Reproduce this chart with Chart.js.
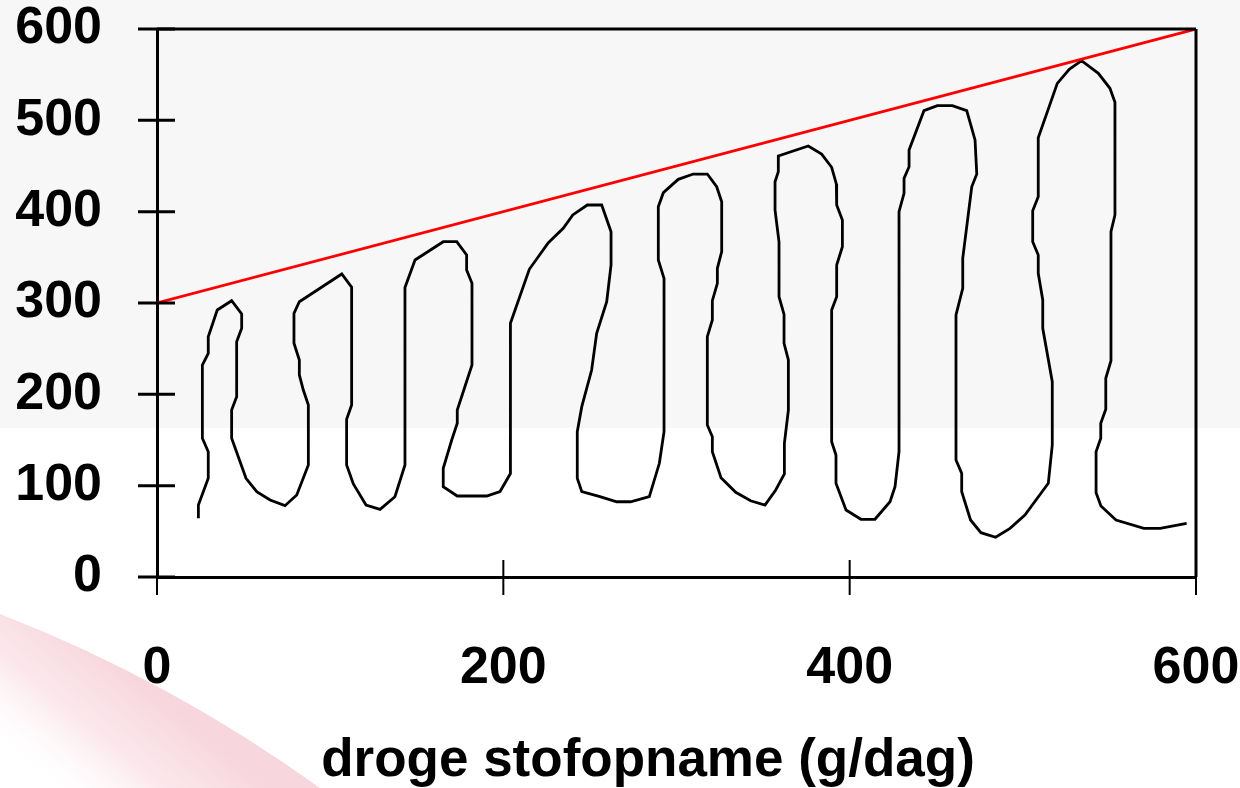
<!DOCTYPE html>
<html>
<head>
<meta charset="utf-8">
<script src="https://cdn.jsdelivr.net/npm/chart.js@4/dist/chart.umd.min.js"></script>
<style>
html,body{margin:0;padding:0;background:#fff;}
#wrap{width:1240px;height:788px;}
</style>
</head>
<body>
<div id="wrap"><canvas id="c" width="1240" height="788"></canvas></div>
<script>
// droge stofopname (g/dag) vs. value — traced curve
const curveX = [23.9,23.9,29.6,29.6,26.2,26.2,29.6,29.6,34.8,43.1,48.9,48.9,46.0,46.0,43.1,43.1,51.4,57.6,65.3,73.9,80.7,87.4,87.4,84.5,82.2,82.2,79.1,79.1,82.2,106.7,112.4,112.4,109.5,109.5,113.4,120.7,128.8,137.4,143.2,143.2,149.0,165.3,173.1,178.8,178.8,181.9,181.9,173.4,173.4,170.2,165.3,165.3,173.4,190.4,198.1,204.1,204.1,215.0,226.0,234.6,240.1,248.5,256.8,262.2,262.2,259.7,253.9,251.0,245.3,242.7,242.7,245.3,255.8,265.5,273.5,284.3,290.1,292.8,292.8,289.5,289.5,292.4,301.0,309.7,317.8,323.2,326.1,326.1,323.6,323.6,320.7,320.7,317.8,317.8,320.7,320.7,325.7,334.2,342.8,351.1,357.3,362.3,362.3,364.6,364.6,362.1,362.1,359.2,359.2,356.9,356.9,358.8,358.8,376.1,383.8,389.6,392.3,392.5,395.8,395.8,392.5,392.5,389.6,389.6,392.1,392.1,397.9,406.5,414.6,423.3,426.2,428.5,428.5,431.4,431.4,434.3,434.3,442.9,450.6,459.3,467.6,472.4,473.4,470.5,465.3,465.3,461.4,461.4,464.7,464.7,469.8,475.8,484.3,492.6,501.2,514.7,517.0,517.0,511.5,511.5,508.9,508.9,505.7,505.7,508.9,508.9,519.9,526.8,533.9,543.6,550.3,553.2,553.2,550.9,550.9,547.9,547.9,545.0,545.0,542.3,542.3,545.1,553.8,569.9,579.3,594.6];
const curveY = [64.3,78.8,108.1,137.2,151.9,232.1,244.9,263.1,292.3,302.5,288.0,272.3,257.6,197.4,182.8,151.9,108.1,93.4,84.3,78.1,89.8,122.6,188.3,204.7,221.2,237.6,255.9,288.7,301.4,331.8,317.2,188.3,172.7,122.6,101.8,78.8,74.1,87.9,122.6,317.0,347.1,367.1,367.1,352.6,336.1,321.6,232.1,182.8,168.3,150.0,119.0,98.9,88.7,88.7,93.6,113.3,277.8,336.9,366.0,381.8,396.4,407.3,407.3,378.1,341.6,301.4,266.8,226.6,186.5,159.1,108.1,93.4,87.9,82.4,82.4,87.9,124.5,159.1,327.0,347.1,405.4,420.8,435.4,441.2,441.2,427.3,410.9,356.2,338.0,321.6,302.5,281.4,263.1,166.4,153.6,137.2,108.7,92.7,83.5,78.8,95.3,112.8,146.4,182.8,237.6,255.9,287.6,306.9,367.1,401.8,432.8,443.8,461.0,471.9,463.1,448.6,430.3,407.3,390.9,361.6,341.6,306.9,292.3,148.1,133.6,102.6,73.4,63.2,63.2,82.4,98.9,137.2,400.0,420.1,436.5,449.2,467.5,510.6,516.0,516.0,510.6,478.5,441.2,427.3,348.9,316.1,286.9,128.1,113.5,93.4,62.4,48.5,43.5,53.3,67.9,102.6,144.5,213.8,272.3,303.3,332.5,352.6,367.1,401.1,416.4,481.0,540.5,555.9,565.3,551.5,535.1,519.7,396.4,378.1,236.8,217.6,183.6,168.3,151.9,137.2,92.3,77.7,62.4,53.3,53.3,58.8];
// red reference line
const refX = [0, 600];
const refY = [300, 600];
// axis ticks
const xTicks = [0, 200, 400, 600];
const yTicks = [0, 100, 200, 300, 400, 500, 600];
const xTitle = 'droge stofopname (g/dag)';

const curvePts = curveX.map((x, i) => ({x, y: curveY[i]}));
const refPts = refX.map((x, i) => ({x, y: refY[i]}));

const FONT = '"Liberation Sans", Arial, sans-serif';

const decor = {
  id: 'decor',
  beforeDraw(chart) {
    const ctx = chart.ctx;
    const W = chart.width, H = chart.height;
    ctx.save();
    ctx.fillStyle = '#ffffff';
    ctx.fillRect(0, 0, W, H);
    ctx.fillStyle = '#f7f7f7';
    ctx.fillRect(0, 0, W, 428);
    // pink swoosh (background decoration)
    const g = ctx.createLinearGradient(150, 690, 60, 800);
    g.addColorStop(0, 'rgba(245,200,210,0.75)');
    g.addColorStop(0.5, 'rgba(248,215,222,0.55)');
    g.addColorStop(1, 'rgba(255,255,255,0.0)');
    ctx.fillStyle = g;
    ctx.beginPath();
    ctx.moveTo(0, 614);
    ctx.quadraticCurveTo(170, 680, 320, 788);
    ctx.lineTo(0, 788);
    ctx.closePath();
    ctx.fill();
    ctx.restore();
  },
  afterDatasetsDraw(chart) {
    const ctx = chart.ctx;
    const a = chart.chartArea;
    const xs = chart.scales.x, ys = chart.scales.y;
    ctx.save();
    ctx.strokeStyle = '#000';
    ctx.lineCap = 'butt';
    // top and right frame
    ctx.lineWidth = 3;
    ctx.beginPath();
    ctx.moveTo(a.left, a.top); ctx.lineTo(a.right, a.top);
    ctx.moveTo(a.right, a.top); ctx.lineTo(a.right, a.bottom);
    ctx.stroke();
    // crossing tick marks on y axis
    ys.ticks.forEach(t => {
      const py = ys.getPixelForValue(t.value);
      ctx.beginPath();
      ctx.moveTo(a.left - 19, py); ctx.lineTo(a.left + 18, py);
      ctx.stroke();
    });
    // crossing tick marks on x axis
    ctx.lineWidth = 2;
    xs.ticks.forEach(t => {
      const px = xs.getPixelForValue(t.value);
      ctx.beginPath();
      ctx.moveTo(px, a.bottom - 17); ctx.lineTo(px, a.bottom + 18);
      ctx.stroke();
    });
    ctx.restore();
  },
  afterDraw(chart) {
    // x axis title (centred as in the original slide, slightly left of the plot centre)
    const ctx = chart.ctx;
    ctx.save();
    ctx.fillStyle = '#000';
    ctx.font = 'bold 53px ' + FONT;
    ctx.textAlign = 'center';
    ctx.textBaseline = 'middle';
    ctx.fillText(xTitle, 648, 761);
    ctx.restore();
  }
};

new Chart(document.getElementById('c'), {
  type: 'scatter',
  data: {
    datasets: [
      {data: refPts, showLine: true, borderColor: '#ff0000', borderWidth: 2.8, pointRadius: 0, fill: false, tension: 0, order: 1},
      {data: curvePts, showLine: true, borderColor: '#000000', borderWidth: 2.8, pointRadius: 0, fill: false, tension: 0, order: 2}
    ]
  },
  options: {
    responsive: false,
    animation: false,
    devicePixelRatio: 1,
    layout: {padding: {top: 29, right: 44, left: 0, bottom: 0}},
    plugins: {legend: {display: false}, tooltip: {enabled: false}},
    scales: {
      x: {
        type: 'linear', min: 0, max: 600,
        afterBuildTicks(s) { s.ticks = xTicks.map(v => ({value: v})); },
        afterFit(s) { s.height = 211; s.paddingLeft = 0; s.paddingRight = 0; },
        ticks: {color: '#000', padding: 66, font: {family: FONT, size: 52, weight: 'bold', lineHeight: 1}, maxRotation: 0, autoSkip: false},
        grid: {display: true, drawOnChartArea: false, drawTicks: false},
        border: {display: true, color: '#000', width: 3},
        title: {display: false}
      },
      y: {
        type: 'linear', min: 0, max: 600,
        afterBuildTicks(s) { s.ticks = yTicks.map(v => ({value: v})); },
        afterFit(s) { s.width = 157; s.paddingTop = 0; s.paddingBottom = 0; },
        ticks: {color: '#000', padding: 55, font: {family: FONT, size: 52, weight: 'bold', lineHeight: 1}, autoSkip: false},
        grid: {display: true, drawOnChartArea: false, drawTicks: false},
        border: {display: true, color: '#000', width: 3}
      }
    }
  },
  plugins: [decor]
});
</script>
</body>
</html>
